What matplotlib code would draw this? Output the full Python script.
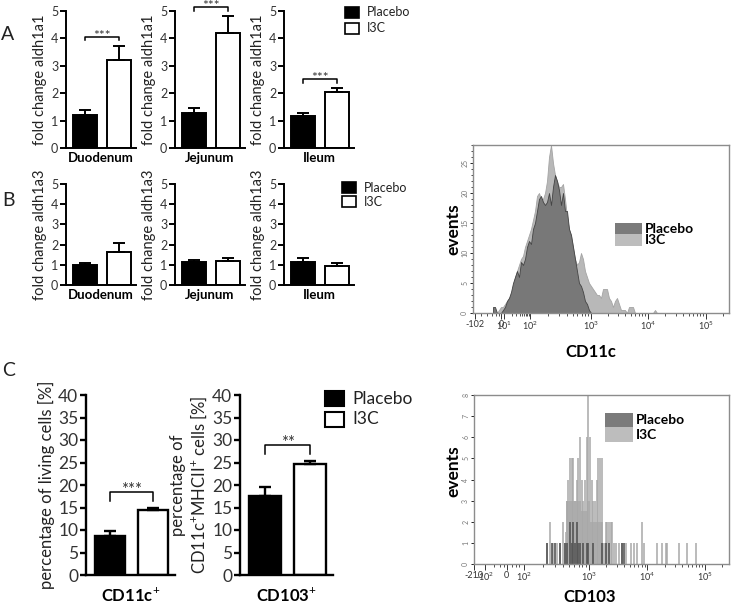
import numpy as np
import matplotlib
matplotlib.use('Agg')
import matplotlib.pyplot as plt
from matplotlib.patches import Rectangle

plt.rcParams['font.family'] = ['Lato', 'DejaVu Sans']
plt.rcParams['mathtext.fontset'] = 'custom'
plt.rcParams['mathtext.rm'] = 'Lato'
plt.rcParams['mathtext.it'] = 'Lato:italic'
plt.rcParams['mathtext.bf'] = 'Lato:bold'

# ---- data ----
segments = ['Duodenum', 'Jejunum', 'Ileum']
groups = ['Placebo', 'I3C']

aldh1a1_placebo = [1.22, 1.28, 1.15]
aldh1a1_placebo_sem = [0.18, 0.17, 0.13]
aldh1a1_i3c = [3.22, 4.18, 2.03]
aldh1a1_i3c_sem = [0.51, 0.62, 0.15]
aldh1a1_sig = ['***', '***', '***']

aldh1a3_placebo = [1.00, 1.12, 1.15]
aldh1a3_placebo_sem = [0.08, 0.13, 0.17]
aldh1a3_i3c = [1.62, 1.18, 0.92]
aldh1a3_i3c_sem = [0.45, 0.17, 0.15]

dc_subsets = ['CD11c$^{+}$', 'CD103$^{+}$']
dc_ylabels = ['percentage of living cells [%]',
              'percentage of\nCD11c$^{+}$MHCII$^{+}$ cells [%]']
dc_placebo = [8.6, 17.6]
dc_placebo_sem = [1.1, 1.9]
dc_i3c = [14.4, 24.6]
dc_i3c_sem = [0.6, 0.8]
dc_sig = ['***', '**']

# CD11c histogram, counts per channel bin (bin width 2 channels)
cd11c_placebo_start = 20
cd11c_placebo = [1, 1, 0, 0, 0, 0.5, 1, 2, 2.5, 3.5, 5, 6, 7, 6, 8.5, 8, 9, 11, 12, 11.5,
                 14, 15, 17, 19, 19.5, 18.5, 18, 18.5, 20, 18, 21, 23, 22, 20.5, 18, 20, 17, 17,
                 14, 13, 11, 9, 7, 5, 4.5, 3.5, 2, 1.5, 0.5, 0]
cd11c_i3c_start = 24
cd11c_i3c = [0, 0.5, 1, 1, 1.5, 2, 2.5, 3, 4.5, 6, 7, 8, 9, 9.5, 11, 12, 13, 14, 15.5, 17,
             19.5, 20, 19, 19, 20, 22, 26, 28, 25, 23, 22, 21, 21, 21.5, 19, 16, 14, 13, 11, 9,
             8, 8.5, 10, 9, 7, 6, 5, 4.5, 4, 3.5, 3, 3, 2.5, 4, 4, 4, 2.5, 2, 1, 2,
             2.5, 1.5, 0.5, 0.5, 0.5, 0, 1, 1, 1, 0, 0, 0, 0, 0, 0, 0, 0, 0, 0, 0.5, 0]

# CD103 histogram, sparse events (channel, count)
cd103_i3c_ch = [73, 76, 79, 83, 86, 89, 91, 93, 94, 96, 98, 99, 101, 103, 104, 106, 108, 109,
                111, 113, 114, 116, 118, 119, 121, 123, 124, 126, 128, 129, 131, 133, 134, 136,
                138, 139, 141, 143, 146, 149, 153, 158, 161, 164, 169, 171, 184, 189, 193, 194,
                206, 214, 223]
cd103_i3c_n = [1, 2, 1, 1, 1, 2, 1, 3, 4, 5, 5, 5, 3, 4, 5, 6, 4, 3, 4, 6, 8, 6, 4, 3, 3, 4,
               5, 5, 5, 2, 1, 2, 2, 2, 2, 2, 1, 1, 1, 1, 1, 1, 1, 1, 2, 1, 1, 1, 1, 1, 1, 1, 1]
cd103_i3c_bulk_ch = [91, 94, 97, 100, 103, 106, 109, 112, 115, 118, 121, 124, 127, 130]
cd103_i3c_bulk = [1.5, 3, 3, 3, 3, 3, 2.5, 2.5, 3, 2, 2, 2, 2, 0]
cd103_placebo_ch = [73, 78, 81, 86, 91, 93, 96, 98, 99, 101, 103, 104, 106, 109, 113, 114,
                    119, 128, 133, 136, 149, 151]
cd103_placebo_n = [1, 1, 1, 1, 1, 1, 2, 1, 2, 1, 2, 1, 1, 1, 1, 1, 1, 1, 1, 1, 1, 1]

W, H = 733, 608
fig = plt.figure(figsize=(W / 100, H / 100), dpi=100)


def px_axes(left, top, width, height):
    return fig.add_axes([left / W, 1 - (top + height) / H, width / W, height / H])


def bar_pair(ax, p, pe, t, te, ymax, step, fs, lw=1.4):
    ax.bar(0, p, 0.7, color='black', edgecolor='black', lw=lw, zorder=2)
    ax.bar(1, t, 0.7, color='white', edgecolor='black', lw=lw, zorder=2)
    ax.errorbar([0, 1], [p, t], yerr=[[0, 0], [pe, te]], fmt='none', ecolor='black',
                elinewidth=lw, capsize=4.5, capthick=lw, zorder=3)
    ax.set_xlim(-0.55, 1.5)
    ax.set_ylim(0, ymax)
    for s in ['top', 'right']:
        ax.spines[s].set_visible(False)
    for s in ['left', 'bottom']:
        ax.spines[s].set_linewidth(lw)
    ax.set_xticks([])
    ax.set_yticks(np.arange(0, ymax + 0.01, step))
    ax.tick_params(axis='y', direction='out', length=4, width=lw, labelsize=fs,
                   pad=1.5, labelcolor='#333333')


def bracket(ax, y, leg, label, fs):
    ax.plot([0, 0, 1, 1], [y - leg, y, y, y - leg], color='black', lw=1.1, clip_on=False)
    ax.annotate(label, (0.5, y), xytext=(0, -2), textcoords='offset points',
                ha='center', va='baseline', fontsize=fs, color='#333333',
                annotation_clip=False)


def square_legend(x, y0, dy, w, h, fs, lw=1.2):
    for i, (g, fc) in enumerate(zip(groups, ['black', 'white'])):
        y = y0 + i * dy
        fig.patches.append(Rectangle((x / W, 1 - (y + h) / H), w / W, h / H,
                                     facecolor=fc, edgecolor='black', lw=lw,
                                     transform=fig.transFigure))
        fig.text((x + w + 8) / W, 1 - (y + h / 2) / H, g, fontsize=fs,
                 va='center', ha='left', color='#222222')


# ---- panel A ----
a_left = [66, 175, 284]
for i in range(3):
    ax = px_axes(a_left[i], 11, 70, 137)
    bar_pair(ax, aldh1a1_placebo[i], aldh1a1_placebo_sem[i], aldh1a1_i3c[i],
             aldh1a1_i3c_sem[i], 5, 1, 9)
    top = max(aldh1a1_placebo[i] + aldh1a1_placebo_sem[i], aldh1a1_i3c[i] + aldh1a1_i3c_sem[i])
    bracket(ax, top + 0.33, 0.13, aldh1a1_sig[i], 10)
    ax.set_ylabel('fold change aldh1a1', fontsize=10.5, labelpad=3, color='#222222')
    ax.set_xlabel(segments[i], fontsize=9.5, fontweight='bold', labelpad=3)
square_legend(345, 7, 16, 14, 11, 9)

# ---- panel B ----
for i in range(3):
    ax = px_axes(a_left[i], 184, 70, 101)
    bar_pair(ax, aldh1a3_placebo[i], aldh1a3_placebo_sem[i], aldh1a3_i3c[i],
             aldh1a3_i3c_sem[i], 5, 1, 9)
    ax.set_ylabel('fold change aldh1a3', fontsize=10.5, labelpad=3, color='#222222')
    ax.set_xlabel(segments[i], fontsize=9.5, fontweight='bold', labelpad=3)
square_legend(342, 182, 14, 14, 11, 9)

# ---- panel C ----
c_axes = [(86, 89), (240, 93)]
for i in range(2):
    ax = px_axes(c_axes[i][0], 395, c_axes[i][1], 180)
    bar_pair(ax, dc_placebo[i], dc_placebo_sem[i], dc_i3c[i], dc_i3c_sem[i], 40, 5, 12.5,
             lw=1.7)
    top = max(dc_placebo[i] + dc_placebo_sem[i], dc_i3c[i] + dc_i3c_sem[i])
    bracket(ax, top + 3.5, 2.1, dc_sig[i], 12)
    ax.set_ylabel(dc_ylabels[i], fontsize=12, labelpad=2, color='#222222',
                  linespacing=1.15)
    ax.set_xlabel(dc_subsets[i], fontsize=12, fontweight='bold', labelpad=8)
square_legend(325, 391, 21, 19, 15, 12.5, lw=1.5)

for letter, (x, y) in zip('ABC', [(8, 35), (8, 200), (9, 370)]):
    fig.text(x / W, 1 - y / H, letter, fontsize=14, ha='center', va='center',
             color='#222222')


# ---- flow histograms ----
def log_ticks(ax, decades, extra_major, extra_minor):
    major = list(extra_major.keys()) + [decades[n] for n in sorted(decades)]
    labels = list(extra_major.values()) + ['$10^{%d}$' % n for n in sorted(decades)]
    ns = sorted(decades)
    minor = list(extra_minor)
    for a, b in zip(ns[:-1], ns[1:]):
        for k in range(2, 10):
            minor.append(decades[a] + (decades[b] - decades[a]) * np.log10(k))
    for k in range(2, 10):
        minor.append(decades[ns[-1]] + 58 * np.log10(k))
    minor = [m for m in minor if m < 255]
    ax.set_xticks(major)
    ax.set_xticklabels(labels)
    ax.set_xticks(minor, minor=True)
    ax.tick_params(axis='x', which='major', direction='out', length=4, width=0.7,
                   labelsize=6.5, pad=1, colors='#333333')
    ax.tick_params(axis='x', which='minor', direction='out', length=2.5, width=0.6,
                   colors='#333333')


def hist_frame(ax, ymax, ystep, minor_step):
    for s in ax.spines.values():
        s.set_color('#8c8c8c')
        s.set_linewidth(1.0)
    ax.set_xlim(0, 256)
    ax.set_ylim(0, ymax)
    ax.set_yticks(np.arange(0, ymax + 0.01, ystep))
    if minor_step:
        ax.set_yticks(np.arange(0, ymax + 0.01, minor_step), minor=True)
    ax.tick_params(axis='y', which='major', direction='out', length=2.5, width=0.6,
                   labelsize=5, pad=1, labelcolor='#777777', labelrotation=90)
    ax.tick_params(axis='y', which='minor', direction='out', length=1.5, width=0.5)
    for lab in ax.get_yticklabels():
        lab.set_va('center')


def flow_legend(ax, x, y, w, h, fs):
    for i, (g, fc) in enumerate(zip(groups, ['#7b7b7b', '#bdbdbd'])):
        ax.add_patch(Rectangle((x, y - (i + 1) * h), w, h, facecolor=fc, edgecolor='none',
                               transform=ax.transAxes))
        ax.text(x + w + 0.012, y - (i + 0.5) * h, g, transform=ax.transAxes,
                fontsize=fs, fontweight='bold', va='center', ha='left')


ax = px_axes(473, 145, 256, 168)
ch_i = cd11c_i3c_start + 2 * np.arange(len(cd11c_i3c))
ch_p = cd11c_placebo_start + 2 * np.arange(len(cd11c_placebo))
ax.fill_between(ch_i, cd11c_i3c, color='#b8b8b8', edgecolor='#a4a4a4', lw=0.6)
ax.fill_between(ch_p, cd11c_placebo, color='#787878', edgecolor='#444444', lw=0.6)
hist_frame(ax, 28, 5, 1)
log_ticks(ax, {1: 31, 2: 57, 3: 118, 4: 175, 5: 233}, {2: '-102', 28: '0'},
          [8, 14, 19, 23, 26])
flow_legend(ax, 0.555, 0.536, 0.105, 0.068, 10)
fig.text(453 / W, 1 - 229 / H, 'events', rotation=90, fontsize=12.5, fontweight='bold',
         ha='center', va='center')
fig.text(591 / W, 1 - 352 / H, 'CD11c', fontsize=12, fontweight='bold', ha='center',
         va='center')

ax = px_axes(474, 395, 255, 169)
ax.fill_between(cd103_i3c_bulk_ch, cd103_i3c_bulk, step='mid', color='#bcbcbc', lw=0)
ax.vlines(cd103_i3c_ch, 0, cd103_i3c_n, color='#a8a8a8', lw=1.1)
ax.vlines(cd103_placebo_ch, 0, cd103_placebo_n, color='#555555', lw=1.2)
hist_frame(ax, 8, 1, None)
log_ticks(ax, {2: 50, 3: 115, 4: 174, 5: 232}, {0: '-210', 11: '-$10^{2}$', 33: '0'},
          [20, 26, 30, 38, 42, 45])
flow_legend(ax, 0.514, 0.893, 0.11, 0.085, 10)
fig.text(453 / W, 1 - 471 / H, 'events', rotation=90, fontsize=12.5, fontweight='bold',
         ha='center', va='center')
fig.text(590 / W, 1 - 597 / H, 'CD103', fontsize=12, fontweight='bold', ha='center',
         va='center')

fig.savefig('out.png', dpi=100)
